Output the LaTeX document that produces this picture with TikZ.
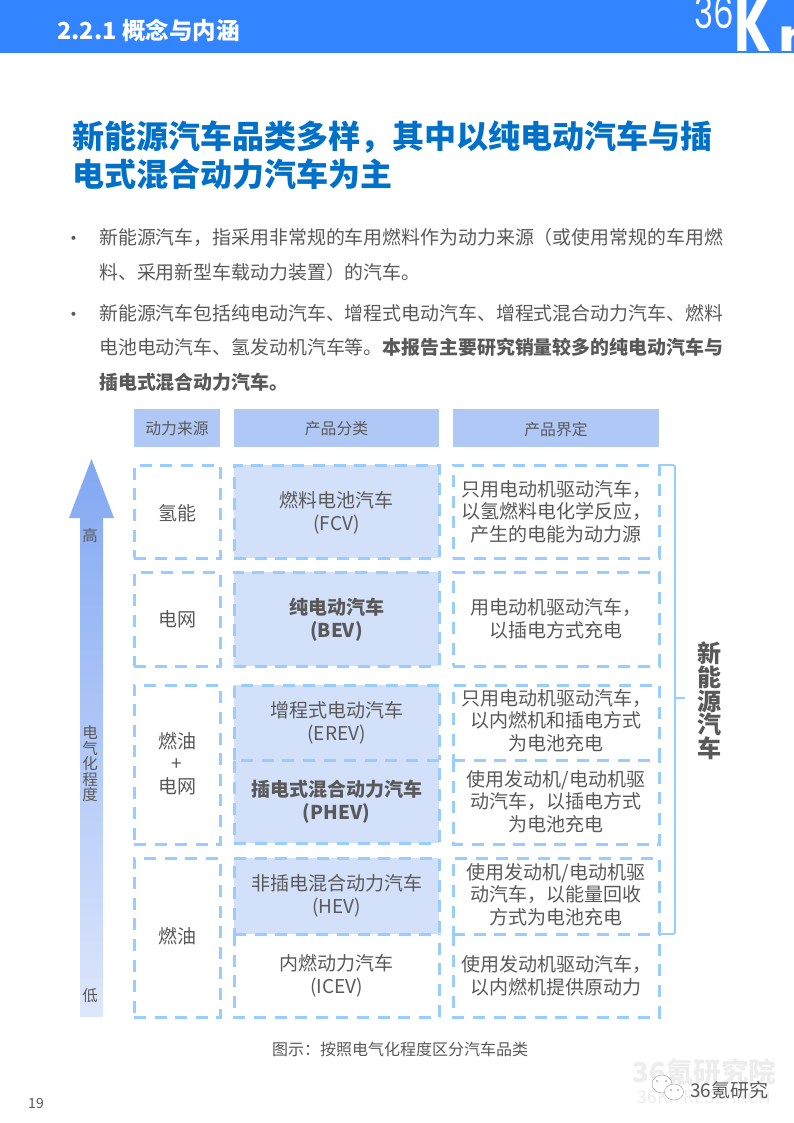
\documentclass[tikz,border=0pt]{standalone}
\usepackage{fontspec}
\setmainfont{Noto Sans CJK SC}
\newfontfamily\logofont{Poppins}
\usepackage{tikz}
\usetikzlibrary{arrows.meta,positioning,calc}
\definecolor{bandblue}{HTML}{3385FF}
\definecolor{titleblue}{HTML}{0070C8}
\definecolor{txtgray}{HTML}{595959}
\definecolor{headblue}{HTML}{B0C8F5}
\definecolor{cellblue}{HTML}{D3E0FA}
\definecolor{dashblue}{HTML}{99CCFF}
\definecolor{arrowtop}{HTML}{82A8F2}
\definecolor{arrowlow}{HTML}{DDE7FC}
\newcommand{\fs}[2]{\fontsize{#1}{#2}\selectfont}
\begin{document}
\begin{tikzpicture}[x=1pt,y=-1pt,
  body/.style={anchor=west,inner sep=0,text=txtgray,font=\fs{18.9}{23}},
  head/.style={fill=headblue,minimum height=38,inner sep=0,outer sep=0},
  headlab/.style={text=txtgray,font=\fs{15.8}{19},inner sep=0},
  dline/.style={draw=dashblue,line width=3,dash pattern=on 12 off 8.6},
  dbox/.style={dline,inner sep=0,outer sep=0},
  openbox/.style={inner sep=0,outer sep=0},
  srcw/.style={minimum width=86},
  catw/.style={minimum width=205},
  defw/.style={minimum width=206},
  tint/.style={fill=cellblue},
  lab/.style={text=txtgray,align=center,inner sep=0,font=\fs{19}{22.7}},
  blab/.style={lab,font=\fs{19}{22.7}\bfseries},
  axlab/.style={text=txtgray,font=\fs{15.5}{15.5},align=center,inner sep=0}]
\useasboundingbox (0,0) rectangle (794,1123);
\fill[white] (0,0) rectangle (794,1123);
% top band
\fill[bandblue] (0,0) rectangle (794,53);
\node[anchor=west,inner sep=0,text=white,font=\fs{23.5}{26}\bfseries] (sect) at (57,30) {2.2.1 概念与内涵};
\begin{scope}
\clip (0,0) rectangle (794,53);
\node[inner sep=0,text=white,font=\fs{34}{36}\logofont] (logo36) at (714,12) {\scalebox{.95}[1.3]{36}};
\node[anchor=base west,inner sep=0,text=white,font=\fs{78}{78}\logofont\bfseries] (logok) at (734,52) {\scalebox{.68}[1]{K}};
\node[anchor=base west,inner sep=0,text=white,font=\fs{44}{44}\logofont\bfseries] (logor) at (778,52) {\scalebox{1.3}[1]{r}};
\end{scope}
% title and text
\node[anchor=west,inner sep=0,text=titleblue,font=\fs{32}{38}\bfseries] (title1) at (72,137) {新能源汽车品类多样，其中以纯电动汽车与插};
\node[anchor=west,inner sep=0,text=titleblue,font=\fs{32}{38}\bfseries] (title2) at (72,174) {电式混合动力汽车为主};
\node[body] (dot1) at (64,241) {•}; \node[body] (dot2) at (64,317) {•};
\node[body] (p1) at (99,237.5) {新能源汽车，指采用非常规的车用燃料作为动力来源（或使用常规的车用燃};
\node[body] (p2) at (99,272.5) {料、采用新型车载动力装置）的汽车。};
\node[body] (p3) at (99,313) {新能源汽车包括纯电动汽车、增程式电动汽车、增程式混合动力汽车、燃料};
\node[body] (p4) at (99,347) {电池电动汽车、氢发动机汽车等。\textbf{本报告主要研究销量较多的纯电动汽车与}};
\node[body,font=\fs{18.9}{23}\bfseries] (p5) at (99,382) {插电式混合动力汽车。};
% header row
\node[head,minimum width=86] (hsrc) at (177,428) {}; \node[headlab] (hsrct) at (177,429) {动力来源};
\node[head,minimum width=205] (hcat) at (336.5,428) {}; \node[headlab] (hcatt) at (336.5,429) {产品分类};
\node[head,minimum width=206] (hdef) at (556,428) {}; \node[headlab] (hdeft) at (556,429) {产品界定};
% arrow
\shade[top color=arrowtop,bottom color=arrowlow]
  (91.5,459) -- (114,518) -- (103,518) -- (103,1017) -- (80,1017) -- (80,518) -- (69,518) -- cycle;
\node[axlab] (high) at (90,536) {高};
\node[axlab] (elec) at (90,764) {电\\气\\化\\程\\度};
\node[axlab] (low) at (90,996) {低};
% sources
\node[dbox,srcw,minimum height=93] (hyd) at (177,511.5) {}; \node[lab] (hydt) at (177,513) {氢能};
\node[dbox,srcw,minimum height=94] (grid) at (177,619) {}; \node[lab] (gridt) at (177,619) {电网};
\node[dbox,srcw,minimum height=159] (mix) at (177,764.5) {}; \node[lab] (mixt) at (177,763.5) {燃油\\+\\电网};
\node[dbox,srcw,minimum height=159] (oil) at (177,937.5) {}; \node[lab] (oilt) at (177,936) {燃油};
% categories
\node[dbox,catw,tint,minimum height=93] (fcv) at (336.5,511.5) {}; \node[lab] (fcvt) at (336.5,513) {燃料电池汽车\\(FCV)};
\node[dbox,catw,tint,minimum height=94] (bev) at (336.5,619) {}; \node[blab] (bevt) at (336.5,619.5) {纯电动汽车\\(BEV)};
\node[openbox,catw,tint,minimum height=75] (erev) at (336.5,722.5) {}; \node[lab] (erevt) at (336.5,723) {增程式电动汽车\\(EREV)};
\node[dbox,catw,tint,minimum height=83] (phev) at (336.5,801.5) {}; \node[blab] (phevt) at (336.5,802) {插电式混合动力汽车\\(PHEV)};
\node[dbox,catw,tint,minimum height=76] (hev) at (336.5,896) {}; \node[lab] (hevt) at (336.5,896) {非插电混合动力汽车\\(HEV)};
\node[openbox,catw,minimum height=83] (icev) at (336.5,975.5) {}; \node[lab] (icevt) at (336.5,976) {内燃动力汽车\\(ICEV)};
\draw[dline] (erev.south west) -- (erev.north west) -- (erev.north east) -- (erev.south east);
\draw[dline] (icev.north west) -- (icev.south west) -- (icev.south east) -- (icev.north east);
% definitions
\node[dbox,defw,minimum height=93] (dfcv) at (556,511.5) {}; \node[lab] (dfcvt) at (556,511.5) {只用电动机驱动汽车，\\以氢燃料电化学反应，\\产生的电能为动力源};
\node[dbox,defw,minimum height=94] (dbev) at (556,619) {}; \node[lab] (dbevt) at (556,618.5) {用电动机驱动汽车，\\以插电方式充电};
\node[dbox,defw,minimum height=75] (derev) at (556,722.5) {}; \node[lab] (derevt) at (556,720.5) {只用电动机驱动汽车，\\以内燃机和插电方式\\为电池充电};
\node[openbox,defw,minimum height=84] (dphev) at (556,802) {}; \node[lab] (dphevt) at (556,801.5) {使用发动机/电动机驱\\动汽车，以插电方式\\为电池充电};
\node[dbox,defw,minimum height=76] (dhev) at (556,896) {}; \node[lab] (dhevt) at (556,894.5) {使用发动机/电动机驱\\动汽车，以能量回收\\方式为电池充电};
\node[openbox,defw,minimum height=83] (dicev) at (556,975.5) {}; \node[lab] (dicevt) at (556,975.5) {使用发动机驱动汽车，\\以内燃机提供原动力};
\draw[dline] (dphev.north west) -- (dphev.south west) -- (dphev.south east) -- (dphev.north east);
\draw[dline] (dicev.north west) -- (dicev.south west) -- (dicev.south east) -- (dicev.north east);
% bracket
\coordinate (tick) at (685,698);
\draw[dashblue,line width=1.8,rounded corners=2] (dfcv.north east) -- (675,465) -- (675,934) -- (dhev.south east);
\draw[dashblue,line width=1.8] (675,698) -- (tick);
\node[align=center,inner sep=0,text=txtgray,font=\fs{24}{23.7}\bfseries] (nev) at (709,701) {新\\能\\源\\汽\\车};
% caption and page
\node[inner sep=0,text=txtgray,font=\fs{16}{19}] (cap) at (400,1049) {图示：按照电气化程度区分汽车品类};
\node[inner sep=0,text=txtgray,font=\fs{14}{16}] (page) at (36,1103) {19};
% watermark
\node[inner sep=0,text=black!7,font=\fs{27.5}{30}\bfseries] (wm1) at (704.5,1072) {36氪研究院};
\node[inner sep=0,text=black!7,font=\fs{17.5}{20}] (wm2) at (704.5,1097) {36KR RESEARCH};
\draw[black!35,line width=0.5,fill=white] (662,1084) ellipse (10 and 9);
\draw[black!35,line width=0.5,fill=white] (674,1092) ellipse (9.5 and 8);
\fill[black!45] (657,1081) circle (0.9) (666,1081) circle (0.9) (671,1090) circle (0.8) (678,1090) circle (0.8);
\node[anchor=west,inner sep=0,text=black!65,font=\fs{19}{22}] (wx) at (690,1090) {36氪研究};
\end{tikzpicture}
\end{document}
